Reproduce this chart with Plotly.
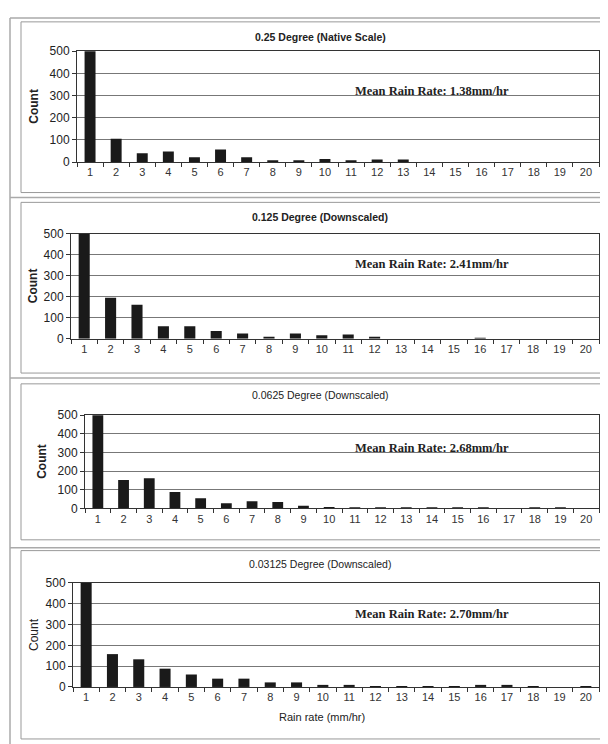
import plotly.graph_objects as go

rain_rate = [str(i) for i in range(1, 21)]

count_025 = [510, 105, 40, 48, 22, 57, 22, 6, 4, 14, 7, 12, 12, 0, 0, 0, 0, 0, 0, 0]
count_0125 = [510, 195, 162, 60, 60, 37, 25, 10, 25, 16, 20, 8, 0, 0, 0, 1, 0, 0, 0, 0]
count_00625 = [510, 152, 162, 88, 55, 28, 38, 35, 15, 8, 4, 7, 4, 7, 7, 3, 0, 3, 3, 0]
count_003125 = [510, 158, 133, 88, 60, 40, 40, 22, 22, 10, 10, 3, 3, 3, 3, 10, 10, 3, 0, 3]

titles = ["0.25 Degree (Native Scale)", "0.125 Degree (Downscaled)",
          "0.0625 Degree (Downscaled)", "0.03125 Degree (Downscaled)"]
means = ["Mean Rain Rate: 1.38mm/hr", "Mean Rain Rate: 2.41mm/hr",
         "Mean Rain Rate: 2.68mm/hr", "Mean Rain Rate: 2.70mm/hr"]
series = [count_025, count_0125, count_00625, count_003125]

# page has an 8px body margin; figure is sized to fit the window
OFF = 8
W, H = 600, 736

# screen-pixel layout per panel:
# (plot_left, plot_right, y500, y0, title_y, xlab_y, count_x, mean_y, frame_top, frame_bottom)
panels = [
    (77, 599, 45, 158, 30, 173, 34, 85, 15, 189),
    (71, 599, 231, 338, 214, 356, 33, 262, 199, 373),
    (85, 599, 416, 511, 395, 529, 42, 449, 384, 543),
    (73, 599, 587, 693, 568, 707, 34, 619, 554, 746),
]
title_bold = [True, True, False, False]
count_bold = [True, True, True, False]


def px(x):
    return (x - OFF) / W


def py(y):
    return 1 - (y - OFF) / H


fig = go.Figure()
layout = dict(width=W, height=H, margin=dict(l=0, r=0, t=0, b=0),
              paper_bgcolor="white", plot_bgcolor="white", showlegend=False,
              font=dict(family="Liberation Sans, Arial", color="#222"))
annotations = []
shapes = []

for i, (vals, (xl, xr, ytop, ybot, ty, xly, cx, my, ft, fb)) in enumerate(zip(series, panels)):
    n = "" if i == 0 else str(i + 1)
    fig.add_trace(go.Bar(x=rain_rate, y=vals, marker=dict(color="#1a1a1a", line=dict(width=0)),
                         width=0.42, xaxis="x" + n, yaxis="y" + n))
    layout["xaxis" + n] = dict(domain=[px(xl), min(px(xr), 1)], anchor="y" + n, type="category",
                               range=[-0.5, 19.5], tickson="boundaries", ticks="outside",
                               ticklen=4, tickcolor="#333", showline=True, linecolor="#333",
                               linewidth=1, mirror=True, showgrid=False,
                               tickfont=dict(size=11, color="#333"))
    layout["yaxis" + n] = dict(domain=[py(ybot), py(ytop)], anchor="x" + n, range=[0, 500],
                               tickvals=[0, 100, 200, 300, 400, 500], ticks="outside",
                               ticklen=4, tickcolor="#333", showline=True, linecolor="#333",
                               linewidth=1, mirror=True, showgrid=True, gridcolor="#777",
                               gridwidth=1, zeroline=False,
                               tickfont=dict(size=12, color="#222"))
    t = "<b>%s</b>" % titles[i] if title_bold[i] else titles[i]
    annotations.append(dict(text=t, x=px(320), y=py(ty), xref="paper", yref="paper",
                            xanchor="center", yanchor="middle",
                            showarrow=False, font=dict(size=10.5, color="#222")))
    c = "<b>Count</b>" if count_bold[i] else "Count"
    annotations.append(dict(text=c, x=px(cx), y=py((ytop + ybot) / 2), xref="paper", yref="paper",
                            xanchor="center", yanchor="middle",
                            showarrow=False, textangle=-90, font=dict(size=12, color="#222")))
    annotations.append(dict(text="<b>%s</b>" % means[i], x=px(432), y=py(my), xref="paper",
                            yref="paper", xanchor="center", yanchor="middle", showarrow=False,
                            font=dict(family="Liberation Serif, Times New Roman", size=12.5,
                                      color="#222")))
    shapes.append(dict(type="rect", xref="paper", yref="paper", x0=px(21), x1=px(620),
                       y0=py(fb), y1=py(ft), line=dict(color="#999", width=1)))

annotations.append(dict(text="Rain rate (mm/hr)", x=px(322), y=py(724), xref="paper", yref="paper",
                        xanchor="center", yanchor="middle",
                        showarrow=False, font=dict(size=11, color="#222")))

# table cell borders
for yy in [11, 194, 378, 551]:
    shapes.append(dict(type="line", xref="paper", yref="paper", x0=px(10), x1=px(620),
                       y0=py(yy), y1=py(yy), line=dict(color="#aaa", width=1.5)))
shapes.append(dict(type="line", xref="paper", yref="paper", x0=px(10), x1=px(10),
                   y0=py(11), y1=py(760), line=dict(color="#aaa", width=1.5)))

layout["annotations"] = annotations
layout["shapes"] = shapes
fig.update_layout(**layout)
fig.write_html("out.html")
